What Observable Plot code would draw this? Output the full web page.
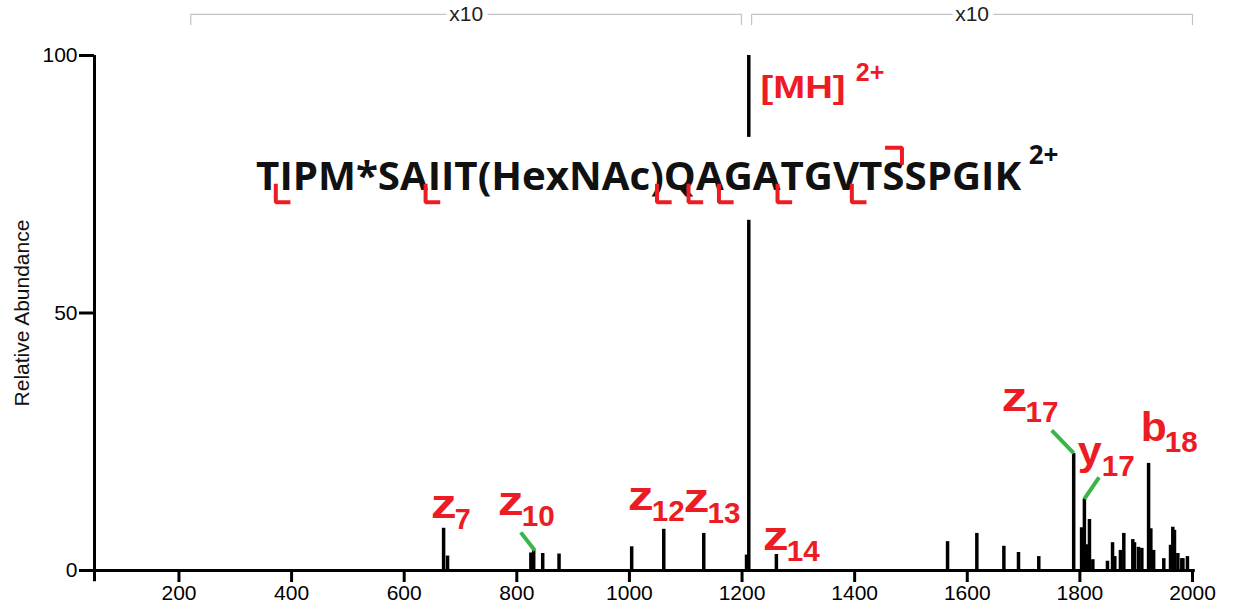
<!DOCTYPE html>
<html>
<head>
<meta charset="utf-8">
<script src="https://cdn.jsdelivr.net/npm/d3@7"></script>
<script src="https://cdn.jsdelivr.net/npm/@observablehq/plot@0.6"></script>
<style>
  html, body { margin: 0; padding: 0; background: #fff; }
  #chart svg { display: block; }
</style>
</head>
<body>
<div id="chart"></div>
<script>
// ---- Data ----
const peakMz = [670, 677, 825, 830, 846, 875, 1004, 1061, 1132, 1208, 1212, 1261,
  1565, 1617, 1665, 1691, 1727, 1789, 1803, 1808, 1813, 1817, 1823, 1849, 1858, 1862,
  1872, 1878, 1894, 1897, 1904, 1910, 1922, 1926, 1931, 1949, 1961, 1965, 1968, 1974,
  1981, 1983, 1991];
const peakIntensity = [8.2, 2.8, 3.4, 3.9, 3.3, 3.2, 4.6, 8.0, 7.2, 3.0, 100, 3.1,
  5.6, 7.2, 4.7, 3.5, 2.7, 22.7, 8.3, 13.9, 5.0, 9.9, 2.1, 1.8, 5.4, 2.7,
  3.9, 7.2, 6.0, 5.4, 4.5, 4.3, 20.8, 8.1, 3.9, 2.3, 4.9, 8.4, 7.8, 3.3,
  2.3, 2.3, 2.7];

const ionLetter = ["z", "z", "z", "z", "z", "z", "y", "b"];
const ionNumber = ["7", "10", "12", "13", "14", "17", "17", "18"];
const ionLabelMz = [647, 766, 997, 1096, 1237, 1661, 1796, 1908];
const ionLabelAb = [10.1, 10.7, 11.7, 11.3, 3.9, 30.9, 20.4, 25.2];

// green leader lines: label end -> peak top
const leaderFromMz = [807, 1750, 1834];
const leaderFromAb = [7.4, 27.2, 18.1];
const leaderToMz = [832, 1789, 1808];
const leaderToAb = [3.9, 22.8, 13.9];

const sequence = "TIPM*SAIIT(HexNAc)QAGATGVTSSPGIK";
const sequenceCharge = "2+";
const precursorLabel = "[MH]";
const precursorCharge = "2+";
const yLabel = "Relative Abundance";

// fragment cleavage markers on the sequence (lower "└" and upper "┐")
const lowerMarkerMz = [372, 638, 1049, 1105, 1159, 1263, 1395];
const upperMarkerMz = [1484];

const zoomStart = [221, 1217];
const zoomEnd = [1199, 2000];
const zoomLabel = ["x10", "x10"];

const xTicks = [200, 400, 600, 800, 1000, 1200, 1400, 1600, 1800, 2000];
const yTicks = [0, 50, 100];

// ---- Derived tables ----
const peaks = peakMz.map((mz, i) => ({mz, intensity: peakIntensity[i]}));
const ions = ionLetter.map((l, i) => ({letter: l, num: ionNumber[i], mz: ionLabelMz[i], ab: ionLabelAb[i]}));
const leaders = leaderFromMz.map((m, i) => ({x1: m, y1: leaderFromAb[i], x2: leaderToMz[i], y2: leaderToAb[i]}));
const markerPts = [];
lowerMarkerMz.forEach((m, i) => {
  markerPts.push({id: "l" + i, x: m, y: 75.1}, {id: "l" + i, x: m, y: 71.5}, {id: "l" + i, x: m + 26, y: 71.5});
});
upperMarkerMz.forEach((m, i) => {
  markerPts.push({id: "u" + i, x: m - 30, y: 82.1}, {id: "u" + i, x: m, y: 82.1}, {id: "u" + i, x: m, y: 78.8});
});
const zooms = zoomStart.map((s, i) => ({s, e: zoomEnd[i], label: zoomLabel[i], mid: (s + zoomEnd[i]) / 2}));
const bracketPts = [];
zooms.forEach((z, i) => {
  bracketPts.push({id: i, x: z.s, y: 106}, {id: i, x: z.s, y: 108}, {id: i, x: z.e, y: 108}, {id: i, x: z.e, y: 106});
});

const RED = "#ed1c24";
const GREEN = "#39b54a";
const SANS = "'Liberation Sans', Arial, sans-serif";
const ION_LETTER_SIZE = 40;
const ION_NUMBER_SIZE = 29;

const svg = Plot.plot({
  width: 1236,
  height: 611,
  marginLeft: 94,
  marginRight: 44,
  marginTop: 55,
  marginBottom: 41,
  style: {fontFamily: SANS, background: "white", color: "black"},
  x: {domain: [50, 2000], label: null},
  y: {domain: [0, 100], label: null},
  marks: [
    // zoom brackets
    Plot.line(bracketPts, {x: "x", y: "y", z: "id", stroke: "#c4c4c4", strokeWidth: 1.2}),
    Plot.text(zooms, {x: "mid", y: 108, text: "label", fontSize: 21, fill: "#222",
      stroke: "white", strokeWidth: 10, lineAnchor: "middle", fontFamily: SANS}),
    // peaks
    Plot.ruleX(peaks, {x: "mz", y1: 0, y2: "intensity", stroke: "black", strokeWidth: 3.5}),
    // white box behind sequence
    Plot.rect([0], {x1: 337, x2: 1760, y1: 68, y2: 84.1, fill: "white"}),
    Plot.text([sequence], {x: 337, y: 73.8, text: d => d, textAnchor: "start", lineAnchor: "bottom",
      fontSize: 40, fontWeight: "bold", fontFamily: "'Open Sans', sans-serif", fill: "#111"}),
    Plot.text([sequenceCharge], {x: 1709, y: 79.0, text: d => d, textAnchor: "start", lineAnchor: "bottom",
      fontSize: 26, fontWeight: "bold", fontFamily: "'Open Sans', sans-serif", fill: "#111"}),
    Plot.line(markerPts, {x: "x", y: "y", z: "id", stroke: RED, strokeWidth: 4, strokeLinejoin: "miter", strokeLinecap: "butt"}),
    // precursor label
    Plot.text([precursorLabel], {x: 1233, y: 91.8, text: d => d, textAnchor: "start", lineAnchor: "bottom",
      fontSize: 31, fontWeight: "bold", fill: RED, fontFamily: SANS}),
    Plot.text([precursorCharge], {x: 1402, y: 95.1, text: d => d, textAnchor: "start", lineAnchor: "bottom",
      fontSize: 25, fontWeight: "bold", fill: RED, fontFamily: SANS}),
    // leaders
    Plot.link(leaders, {x1: "x1", y1: "y1", x2: "x2", y2: "y2", stroke: GREEN, strokeWidth: 4}),
    // ion labels
    Plot.text(ions, {x: "mz", y: "ab", text: "letter", textAnchor: "start", lineAnchor: "bottom",
      fontSize: ION_LETTER_SIZE, fontWeight: "bold", fill: RED, fontFamily: SANS}),
    Plot.text(ions, {x: "mz", y: "ab", text: "num", textAnchor: "start", lineAnchor: "bottom",
      dx: 24, dy: 11, fontSize: ION_NUMBER_SIZE, fontWeight: "bold", fill: RED, fontFamily: SANS}),
    // axes
    Plot.axisX({ticks: xTicks, tickSize: 12, tickPadding: 3, fontSize: 21, strokeWidth: 3, label: null, tickFormat: d => String(d)}),
    Plot.axisY({ticks: yTicks, tickSize: 15, tickPadding: 2, fontSize: 21, strokeWidth: 3, label: null, tickFormat: d => String(d)}),
    Plot.text([yLabel], {frameAnchor: "left", rotate: -90, dx: -72, text: d => d, textAnchor: "middle",
      lineAnchor: "middle", fontSize: 21, fontFamily: SANS, fill: "#111"}),
    Plot.ruleY([0], {x1: 50, x2: 2005, stroke: "black", strokeWidth: 3}),
    Plot.ruleX([50], {y1: -2.2, y2: 100, stroke: "black", strokeWidth: 3})
  ]
});

// stretch text to the widths measured on the reference (the original uses a wide bold face)
const root = d3.select(svg);
const stretch = (sel, w) => sel.attr("textLength", w).attr("lengthAdjust", "spacingAndGlyphs");
root.selectAll("text").each(function() {
  const t = this.textContent;
  const g = this.parentNode;
  const fs = g && g.getAttribute ? g.getAttribute("font-size") : null;
  const fill = g && g.getAttribute ? g.getAttribute("fill") : null;
  const s = d3.select(this);
  if (t === sequence) stretch(s, 765);
  else if (t === precursorLabel && fill === RED) stretch(s, 85);
  else if (fill === RED && fs === String(ION_LETTER_SIZE) && ionLetter.includes(t)) stretch(s, t === "y" ? 24 : 26);
  else if (fill === RED && fs === String(ION_NUMBER_SIZE) && ionNumber.includes(t)) stretch(s, t.length === 1 ? 16 : 33);
});

document.getElementById("chart").appendChild(svg);
</script>
</body>
</html>
